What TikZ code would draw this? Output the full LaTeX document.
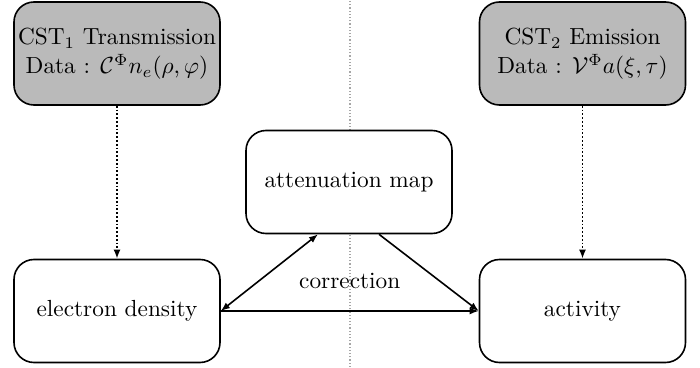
\documentclass[tikz,border=0pt]{standalone}
\usetikzlibrary{arrows.meta,calc}
\newcommand\bigtxt[1]{\scalebox{2.33}{\begin{tabular}{@{}c@{}}#1\end{tabular}}}
\begin{document}
\begin{tikzpicture}[x=1pt,y=1pt,
  box/.style={draw=black, line width=1.6pt, rounded corners=20pt, minimum width=206pt, minimum height=103pt, align=center, fill=white},
  databox/.style={box, fill=black!27},
  conn/.style={line width=1.6pt, -{Latex[length=9pt,width=7pt]}},
  dotconn/.style={line width=1.8pt, dotted, -{Latex[length=9pt,width=7pt]}}
]
\useasboundingbox (0,0) rectangle (700,367);
\draw[black!35, line width=1.2pt, dotted] (350,0) -- (350,367);
\node[databox] (t1) at (117,313.5) {\bigtxt{CST$_1$ Transmission\\[0.5pt]Data : $\mathcal{C}^{\Phi} n_e(\rho,\varphi)$}};
\node[databox] (t2) at (582.5,313.5) {\bigtxt{CST$_2$ Emission\\[0.5pt]Data : $\mathcal{V}^{\Phi} a(\xi,\tau)$}};
\node[box] (att) at (349,185) {\bigtxt{attenuation map}};
\node[box] (ed) at (117,56) {\bigtxt{electron density}};
\node[box] (act) at (582.5,56) {\bigtxt{activity}};
\coordinate (attl) at ($(att.south)+(-31,0)$);
\coordinate (attr) at ($(att.south)+(30,0)$);
\draw[dotconn] (t1.south) -- (ed.north);
\draw[dotconn] (t2.south) -- (act.north);
\draw[conn, {Latex[length=9pt,width=7pt]}-{Latex[length=9pt,width=7pt]}] (ed.east) -- (attl);
\draw[conn] (attr) -- (act.west);
\draw[conn] (ed.east) -- node[above=10pt] (corr) {\bigtxt{correction}} (act.west);
\end{tikzpicture}
\end{document}
